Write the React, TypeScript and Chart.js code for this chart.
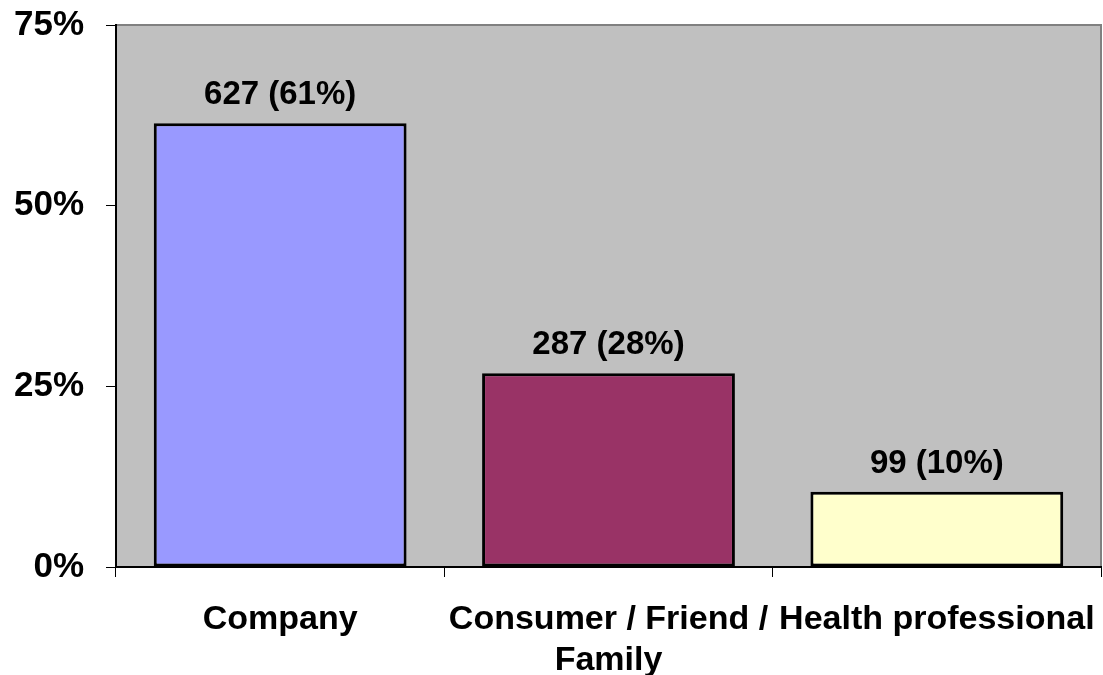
import React, { useEffect, useRef } from "react";
import { Chart, registerables } from "chart.js";

Chart.register(...registerables);

const categories: (string | string[])[] = ["Company", ["Consumer / Friend /", "Family"], "Health professional"];
const percentValues = [61.4, 26.8, 10.4];
const dataLabels = ["627 (61%)", "287 (28%)", "99 (10%)"];
const barColors = ["#9999FF", "#993366", "#FFFFCC"];
const yTicks = [0, 25, 50, 75];

const FONT = "'Liberation Sans', Arial, sans-serif";

const plotBg = {
  id: "plotBg",
  beforeDraw(chart: any) {
    const { ctx, chartArea } = chart;
    ctx.save();
    ctx.fillStyle = "#C0C0C0";
    ctx.fillRect(chartArea.left, chartArea.top, chartArea.right - chartArea.left, chartArea.bottom - chartArea.top);
    ctx.strokeStyle = "#808080";
    ctx.lineWidth = 2;
    ctx.beginPath();
    ctx.moveTo(chartArea.left, chartArea.top);
    ctx.lineTo(chartArea.right, chartArea.top);
    ctx.lineTo(chartArea.right, chartArea.bottom);
    ctx.stroke();
    ctx.restore();
  },
};

const valueLabels = {
  id: "valueLabels",
  afterDatasetsDraw(chart: any) {
    const { ctx } = chart;
    const meta = chart.getDatasetMeta(0);
    ctx.save();
    ctx.font = `bold 33px ${FONT}`;
    ctx.fillStyle = "#000";
    ctx.textAlign = "center";
    ctx.textBaseline = "alphabetic";
    meta.data.forEach((bar: any, i: number) => {
      ctx.fillText(dataLabels[i], bar.x, bar.y - 19);
    });
    ctx.restore();
  },
};

const zeroPad = (scale: any) => {
  scale.paddingTop = 0;
  scale.paddingBottom = 0;
  scale.paddingLeft = 0;
  scale.paddingRight = 0;
};

export default function App() {
  const ref = useRef<HTMLCanvasElement | null>(null);
  useEffect(() => {
    document.body.style.margin = "0";
    const chart = new Chart(ref.current!, {
      type: "bar",
      data: {
        labels: categories,
        datasets: [
          {
            data: percentValues,
            backgroundColor: barColors,
            borderColor: "#000",
            borderWidth: 3,
            borderSkipped: false,
            categoryPercentage: 1,
            barPercentage: 0.77,
          },
        ],
      },
      options: {
        animation: false,
        responsive: false,
        maintainAspectRatio: false,
        layout: { padding: { top: 25, right: 2, left: 0, bottom: 0 } },
        plugins: { legend: { display: false }, tooltip: { enabled: false } },
        scales: {
          x: {
            grid: { display: true, drawOnChartArea: false, offset: true, tickLength: 10, color: "#000", lineWidth: 1 },
            border: { display: true, color: "#000", width: 2 },
            ticks: {
              color: "#000",
              font: { family: FONT, size: 34, weight: "bold", lineHeight: 1.18 },
              padding: 23,
              maxRotation: 0,
              autoSkip: false,
            },
            afterFit(scale: any) {
              scale.height = 675 - 567;
              zeroPad(scale);
            },
          },
          y: {
            min: 0,
            max: 75,
            afterBuildTicks(scale: any) {
              scale.ticks = yTicks.map((v) => ({ value: v }));
            },
            grid: { display: true, drawOnChartArea: false, tickLength: 10, color: "#000", lineWidth: 1 },
            border: { display: true, color: "#000", width: 2 },
            ticks: {
              color: "#000",
              font: { family: FONT, size: 35, weight: "bold" },
              padding: 22,
              callback: (v: any) => `${v}%`,
            },
            afterFit(scale: any) {
              scale.width = 116;
              zeroPad(scale);
            },
          },
        },
      },
      plugins: [plotBg, valueLabels],
    });
    return () => chart.destroy();
  }, []);
  return (
    <div style={{ width: 1103, height: 675 }}>
      <canvas ref={ref} width={1103} height={675} style={{ width: 1103, height: 675, display: "block" }} />
    </div>
  );
}
